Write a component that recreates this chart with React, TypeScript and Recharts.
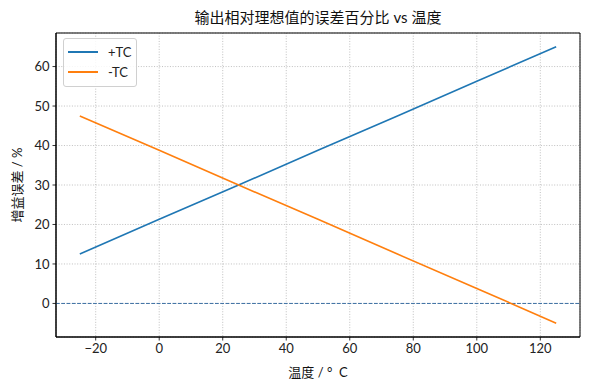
import { LineChart, Line, XAxis, YAxis, CartesianGrid, ReferenceLine, ReferenceArea, Label } from "recharts";

const temps = [-25, 0, 25, 50, 75, 100, 125];
const plusTC = [12.5, 21.3, 30, 38.8, 47.5, 56.3, 65];
const minusTC = [47.5, 38.8, 30, 21.3, 12.5, 3.8, -5];
const xTicks = [-20, 0, 20, 40, 60, 80, 100, 120];
const yTicks = [0, 10, 20, 30, 40, 50, 60];

const seriesNames = ["+TC", "-TC"];
const seriesColors = ["#1f77b4", "#ff7f0e"];

const data = temps.map((t, i) => ({ t, plus: plusTC[i], minus: minusTC[i] }));

const FONT = "Lato, 'Noto Sans CJK SC', sans-serif";
const tickStyle = { fontSize: 13, fill: "#222", fontFamily: FONT };

function LegendBox() {
  return (
    <div
      style={{
        position: "absolute",
        left: 63,
        top: 38,
        border: "1px solid #d0d0d0",
        borderRadius: 3,
        background: "rgba(255,255,255,0.85)",
        padding: "3px 0 4px 0",
        width: 74,
        fontFamily: FONT,
        fontSize: 13,
        color: "#222",
        boxSizing: "border-box",
      }}
    >
      {seriesNames.map((n, i) => (
        <div key={n} style={{ display: "flex", alignItems: "center", height: 20 }}>
          <div style={{ width: 30, height: 2, background: seriesColors[i], marginLeft: 4, marginRight: 10 }} />
          <span>{n}</span>
        </div>
      ))}
    </div>
  );
}

export default function App() {
  return (
    <div style={{ position: "absolute", left: 0, top: 0, width: 590, height: 390, background: "#fff" }}>
      <div
        style={{
          position: "absolute",
          top: 6,
          left: 56,
          width: 524,
          textAlign: "center",
          fontFamily: FONT,
          fontSize: 15,
          color: "#111",
        }}
      >
        输出相对理想值的误差百分比 vs 温度
      </div>
      <LineChart width={590} height={390} data={data} margin={{ top: 33, right: 10, bottom: 0, left: 0 }}>
        <CartesianGrid stroke="#b0b0b0" strokeDasharray="1 1.65" strokeWidth={0.8} vertical horizontal />
        <XAxis
          dataKey="t"
          type="number"
          domain={[-32.5, 132.5]}
          ticks={xTicks}
          allowDataOverflow
          height={53}
          tick={tickStyle}
          tickSize={3.5}
          tickMargin={3}
          axisLine={{ stroke: "#000", strokeWidth: 1 }}
          tickLine={{ stroke: "#000", strokeWidth: 0.8 }}
          tickFormatter={(v: number) => (v < 0 ? `\u2212${Math.abs(v)}` : `${v}`)}
        >
          <Label value={"温度 / °\u00a0\u00a0C"} position="insideBottom" offset={13} style={{ fontSize: 13, fill: "#111", fontFamily: FONT }} />
        </XAxis>
        <YAxis
          type="number"
          domain={[-8.5, 68.5]}
          ticks={yTicks}
          allowDataOverflow
          width={56}
          tick={tickStyle}
          tickSize={3.5}
          tickMargin={3}
          axisLine={{ stroke: "#000", strokeWidth: 1 }}
          tickLine={{ stroke: "#000", strokeWidth: 0.8 }}
        >
          <Label
            value="增益误差 / %"
            angle={-90}
            position="insideLeft"
            offset={17}
            style={{ textAnchor: "middle", fontSize: 13, fill: "#111", fontFamily: FONT }}
          />
        </YAxis>
        <ReferenceArea x1={-32.5} x2={132.5} y1={-8.5} y2={68.5} fill="none" stroke="#000" strokeWidth={1} ifOverflow="visible" />
        <ReferenceLine y={0} stroke="#3b6fa3" strokeWidth={1} strokeDasharray="3.7 1.6" />
        <Line dataKey="plus" name={seriesNames[0]} stroke={seriesColors[0]} strokeWidth={1.6} dot={false} isAnimationActive={false} />
        <Line dataKey="minus" name={seriesNames[1]} stroke={seriesColors[1]} strokeWidth={1.6} dot={false} isAnimationActive={false} />
      </LineChart>
      <LegendBox />
    </div>
  );
}
